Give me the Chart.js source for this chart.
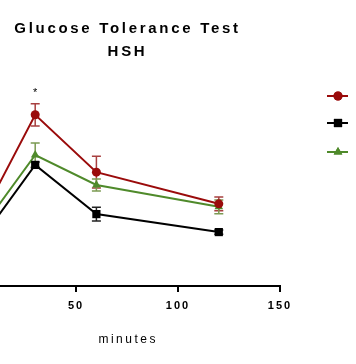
<!DOCTYPE html>
<html><head><meta charset="utf-8">
<script src="https://cdn.jsdelivr.net/npm/chart.js@4/dist/chart.umd.min.js"></script>
<style>
html,body{margin:0;padding:0;overflow:hidden;background:#fff;width:356px;height:364px}
#wrap{position:absolute;left:-60px;top:0;width:480px;height:364px}
</style></head><body>
<div id="wrap"><canvas id="c"></canvas></div>
<script>
// ---- data ----
const minutes = [0, 30, 60, 120];
const xTicks = [0, 50, 100, 150];
const groupLabels = ['Group 1', 'Group 2', 'Group 3'];
const redMean = [126, 400, 266, 192];
const redSem = [0, 26, 37, 16];
const blackMean = [86, 283, 168, 126];
const blackSem = [0, 7, 16, 5];
const greenMean = [110, 306, 236, 185];
const greenSem = [0, 28, 14, 16];
const significant = [false, true, false, false];
const titleLines = ['Glucose Tolerance Test', 'HSH'];
const xTitle = 'minutes';

const SHIFT = 60; // canvas is shifted left by this many px
const colors = {red:'#9a0b0b', black:'#000000', green:'#4f8a2b'};
const errColors = {red:'#a84040', black:'#222222', green:'#7b9a52'};

function mk(label, mean, color, style, r){
  return {label, data: minutes.map((m,i)=>({x:m, y:mean[i]})), borderColor: color, backgroundColor: color,
    borderWidth: 2, pointStyle: style, pointRadius: r, pointHoverRadius: r, pointBorderWidth: 0, tension: 0};
}
const datasets = [
  mk(groupLabels[0], redMean, colors.red, 'circle', 4.5),
  mk(groupLabels[1], blackMean, colors.black, 'rect', 5.8),
  mk(groupLabels[2], greenMean, colors.green, 'triangle', 5),
];
datasets[0].sem = redSem; datasets[0].errColor = errColors.red;
datasets[1].sem = blackSem; datasets[1].errColor = errColors.black;
datasets[2].sem = greenSem; datasets[2].errColor = errColors.green;

const errorBars = {
  id:'errorBars',
  beforeDatasetsDraw(chart){
    const ctx = chart.ctx, xs = chart.scales.x, ys = chart.scales.y;
    ctx.save();
    chart.data.datasets.forEach(ds=>{
      ctx.strokeStyle = ds.errColor; ctx.lineWidth = 1.5;
      ds.data.forEach((p,i)=>{
        const e = ds.sem[i]; if(!e) return;
        const x = xs.getPixelForValue(p.x), y1 = ys.getPixelForValue(p.y+e), y2 = ys.getPixelForValue(p.y-e);
        ctx.beginPath();
        ctx.moveTo(x,y1); ctx.lineTo(x,y2);
        ctx.moveTo(x-4.5,y1); ctx.lineTo(x+4.5,y1);
        ctx.moveTo(x-4.5,y2); ctx.lineTo(x+4.5,y2);
        ctx.stroke();
      });
    });
    ctx.restore();
  }
};

const decorations = {
  id:'decorations',
  beforeDraw(chart){ chart.ctx.letterSpacing = '2px'; },
  afterDraw(chart){
    const ctx = chart.ctx, xs = chart.scales.x, ys = chart.scales.y, ca = chart.chartArea;
    const cx = (ca.left + ca.right)/2;
    ctx.save();
    ctx.fillStyle = '#000'; ctx.textAlign = 'center'; ctx.textBaseline = 'middle';
    ctx.letterSpacing = '2.7px';
    ctx.font = 'bold 15px "Liberation Sans", Arial, sans-serif';
    ctx.fillText(titleLines[0], cx + 0.5, 29);
    ctx.fillText(titleLines[1], cx + 0.5, 52);
    ctx.letterSpacing = '2.5px';
    ctx.font = '12px "Liberation Sans", Arial, sans-serif';
    ctx.fillText(xTitle, cx + 1.2, 340);
    // significance marks
    ctx.letterSpacing = '0px';
    ctx.font = '11px "Liberation Sans", Arial, sans-serif';
    significant.forEach((s,i)=>{
      if(!s) return;
      const x = xs.getPixelForValue(minutes[i]);
      const y = ys.getPixelForValue(redMean[i] + redSem[i]);
      ctx.fillText('*', x, y - 11);
    });
    // legend (markers only; labels fall outside the visible window)
    const lx = 338 + SHIFT, lys = [96, 123, 152];
    chart.data.datasets.forEach((ds,i)=>{
      const y = lys[i];
      ctx.strokeStyle = ds.borderColor; ctx.lineWidth = 2;
      ctx.beginPath(); ctx.moveTo(lx-11, y); ctx.lineTo(lx+10, y); ctx.stroke();
      ctx.fillStyle = ds.backgroundColor;
      Chart.helpers.drawPoint(ctx, {pointStyle: ds.pointStyle, radius: ds.pointRadius, rotation:0, borderWidth:0}, lx, y);
      ctx.fill();
      ctx.fillStyle = '#000'; ctx.textAlign = 'left';
      ctx.font = 'bold 12px "Liberation Sans", Arial, sans-serif';
      ctx.fillText(ds.label, lx + 22, y);
    });
    ctx.restore();
  }
};

new Chart(document.getElementById('c'), {
  type: 'line',
  data: {datasets},
  options: {
    responsive: true, maintainAspectRatio: false, animation: false,
    layout: {padding: {left: 34, right: 140, top: 72, bottom: 0}},
    plugins: {legend: {display: false}, title: {display: false}, tooltip: {enabled: false}},
    scales: {
      x: {type: 'linear', min: 0, max: 150,
        afterBuildTicks(s){ s.ticks = xTicks.map(v=>({value:v})); },
        afterFit(s){ s.height = 78; },
        border: {display: true, color: '#000', width: 2},
        grid: {display: true, drawOnChartArea: false, drawTicks: true, tickLength: 6, color: '#000', lineWidth: 2},
        ticks: {color: '#000', padding: 7, font: {family: '"Liberation Sans", Arial, sans-serif', size: 11, weight: 'bold'}, maxRotation: 0}
      },
      y: {type: 'linear', min: 0, max: 500, display: false}
    }
  },
  plugins: [errorBars, decorations]
});
</script>
</body></html>
